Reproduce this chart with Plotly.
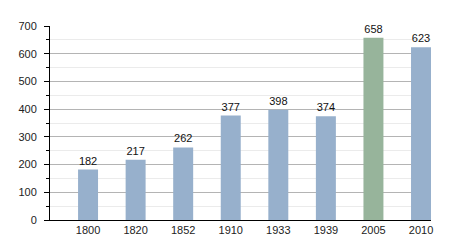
import plotly.graph_objects as go

years = ["1800", "1820", "1852", "1910", "1933", "1939", "2005", "2010"]
population = [182, 217, 262, 377, 398, 374, 658, 623]
bar_colors = ["#97b0cc", "#97b0cc", "#97b0cc", "#97b0cc", "#97b0cc", "#97b0cc", "#97b49b", "#97b0cc"]

fig = go.Figure(go.Bar(
    x=years, y=population, marker_color=bar_colors, marker_line_width=0,
    width=0.42, text=[str(v) for v in population], textposition="outside",
    textfont=dict(size=11, color="#111111"), cliponaxis=False,
))

fig.update_layout(
    width=450, height=250,
    margin=dict(l=50, r=19, t=26, b=30),
    paper_bgcolor="white", plot_bgcolor="white",
    font=dict(family="Liberation Sans, Arial, sans-serif", size=11, color="#222222"),
    showlegend=False,
)
fig.update_xaxes(
    type="category", range=[-0.8, 7.21], showline=True, linecolor="#000000",
    linewidth=1, ticks="", showgrid=False, tickfont=dict(size=11),
)
fig.update_yaxes(
    range=[0, 700], dtick=100, showline=True, linecolor="#000000", linewidth=1,
    ticks="outside", ticklen=5, tickcolor="#000000", gridcolor="#b4b4b4",
    gridwidth=1, zeroline=False, tickfont=dict(size=11), ticklabelstandoff=5,
    minor=dict(dtick=50, ticks="outside", ticklen=3, tickcolor="#000000",
               showgrid=True, gridcolor="#ebebeb"),
)

fig.write_html("out.html")
